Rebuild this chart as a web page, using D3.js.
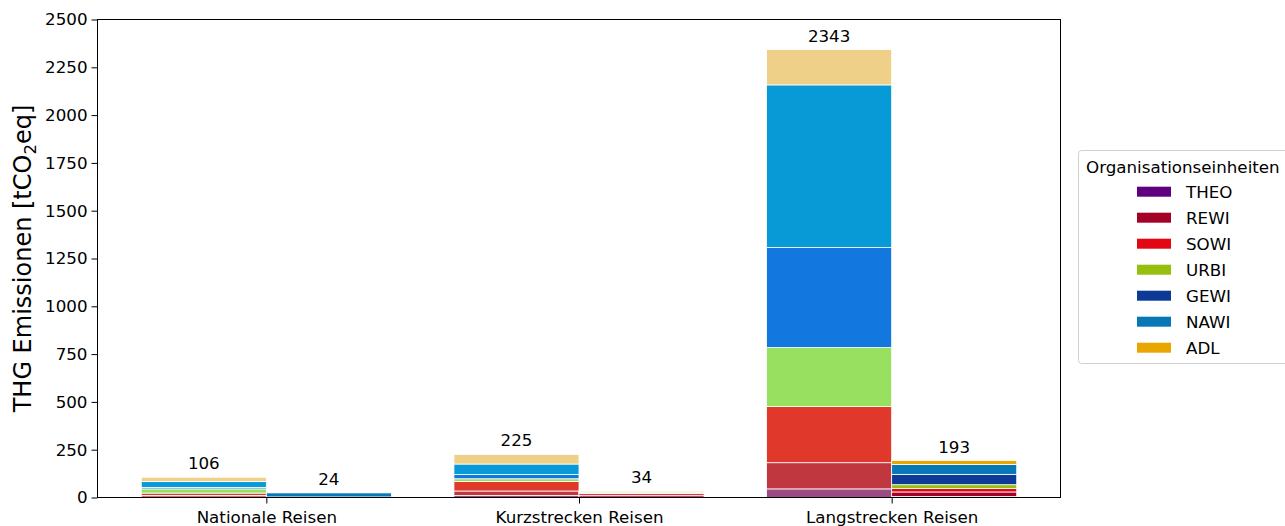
<!DOCTYPE html>
<html>
<head>
<meta charset="utf-8">
<script src="https://cdn.jsdelivr.net/npm/d3@7"></script>
<style>
  body { margin: 0; background: #fff; }
  svg text { font-family: "DejaVu Sans", sans-serif; fill: #000; }
</style>
</head>
<body>
<div id="chart"></div>
<script>
// categories and stacked units (bottom -> top)
const categories = ["Nationale Reisen", "Kurzstrecken Reisen", "Langstrecken Reisen"]
const units = ["THEO", "REWI", "SOWI", "URBI", "GEWI", "NAWI", "ADL"]

// left bar of each group, one row per category, values per unit
const valuesA = [
    [2, 9, 12, 22, 8, 30, 23],
    [10, 24, 50, 14, 22, 55, 50],
    [45, 137, 294, 308, 523, 851, 185]
]
// right bar of each group
const valuesB = [
    [0, 1, 1, 0, 1, 21, 0],
    [2, 10, 10, 2, 2, 3, 5],
    [5, 24, 18, 20, 54, 52, 20]
]
const colorsA = ["#9b4a82", "#c0373f", "#e0392b", "#98e160", "#1278e0", "#089ad6", "#eed089"]
const colorsB = ["#600080", "#a50026", "#e30613", "#97bf0d", "#0c3a96", "#0877b6", "#eaa600"]

const yTicks = [0, 250, 500, 750, 1000, 1250, 1500, 1750, 2000, 2250, 2500]

const W = 1285, H = 526
const pLeft = 97.5, pRight = 1060.5, pTop = 19.5, pBottom = 497.5
const barW = 0.4

const svg = d3.select("#chart").append("svg")
    .attr("width", W)
    .attr("height", H)

const x = d3.scaleLinear().domain([-0.54, 2.54]).range([pLeft, pRight])
const y = d3.scaleLinear().domain([0, 2500]).range([pBottom, pTop])

// stacked bars
function drawBars(values, colors, offset) {
    values.forEach((row, i) => {
        let base = 0
        const g = svg.append("g")
        row.forEach((v, k) => {
            g.append("rect")
                .attr("x", x(i + offset))
                .attr("width", x(barW) - x(0))
                .attr("y", y(base + v))
                .attr("height", y(base) - y(base + v))
                .attr("fill", colors[k])
                .attr("stroke", "#fff")
                .attr("stroke-width", 0.8)
            base += v
        })
        svg.append("text")
            .attr("x", x(i + offset + barW / 2))
            .attr("y", y(base) - 8)
            .attr("text-anchor", "middle")
            .style("font-size", "16.7px")
            .text(d3.sum(row))
    })
}
drawBars(valuesA, colorsA, -barW)
drawBars(valuesB, colorsB, 0)

// axes
const yAxis = svg.append("g")
    .attr("transform", `translate(${pLeft},0)`)
    .call(d3.axisLeft(y).tickValues(yTicks).tickFormat(d3.format("d")).tickSize(6).tickPadding(4))
const xAxis = svg.append("g")
    .attr("transform", `translate(0,${pBottom})`)
    .call(d3.axisBottom(x).tickValues([0, 1, 2]).tickFormat(i => categories[i]).tickSize(6).tickPadding(8))
;[yAxis, xAxis].forEach(a => {
    a.select(".domain").remove()
    a.selectAll("line").attr("stroke", "#000").attr("stroke-width", 1)
    a.selectAll("text").style("font-size", "16.7px").style("font-family", "DejaVu Sans, sans-serif")
})

// frame
svg.append("rect")
    .attr("x", pLeft).attr("y", pTop)
    .attr("width", pRight - pLeft).attr("height", pBottom - pTop)
    .attr("fill", "none").attr("stroke", "#000").attr("stroke-width", 1)

// y label
const yl = svg.append("text")
    .attr("transform", `translate(31,${(pTop + pBottom) / 2}) rotate(-90)`)
    .attr("text-anchor", "middle")
    .style("font-size", "24px")
yl.append("tspan").text("THG Emissionen [tCO")
yl.append("tspan").text("2").style("font-size", "16.5px").attr("dy", 5)
yl.append("tspan").text("eq]").attr("dy", -5)

// legend
const lg = svg.append("g")
lg.append("rect")
    .attr("x", 1078.5).attr("y", 150.5)
    .attr("width", 230).attr("height", 213)
    .attr("rx", 3)
    .attr("fill", "#fff").attr("stroke", "#d0d0d0")
lg.append("text")
    .attr("x", 1086).attr("y", 173)
    .style("font-size", "16.7px")
    .text("Organisationseinheiten")
units.forEach((u, k) => {
    const cy = 191.7 + k * 26
    lg.append("rect")
        .attr("x", 1137).attr("y", cy - 5)
        .attr("width", 34).attr("height", 10)
        .attr("fill", colorsB[k])
    lg.append("text")
        .attr("x", 1186).attr("y", cy + 6)
        .style("font-size", "16.7px")
        .text(u)
})
</script>
</body>
</html>
